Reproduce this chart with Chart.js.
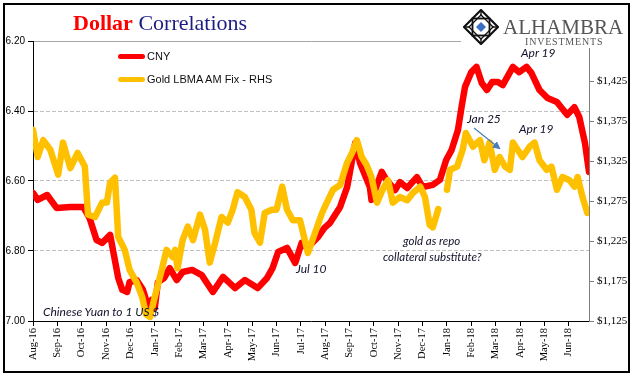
<!DOCTYPE html>
<html>
<head>
<meta charset="utf-8">
<title>Dollar Correlations</title>
<script src="https://cdn.jsdelivr.net/npm/chart.js@4.4.0/dist/chart.umd.min.js"></script>
<style>
    body { margin: 0; background: #fff; }
    #wrap { position: relative; width: 641px; height: 381px; overflow: hidden; background: #fff; }
    #chart { position: absolute; left: 0; top: 0; }
    .frame { position: absolute; left: 3px; top: 3px; width: 627px; height: 370px; border: 2px solid #000; box-sizing: border-box; pointer-events: none; }
    .title { position: absolute; left: 73px; top: 12px; font-family: "Liberation Serif", serif; font-size: 22px; line-height: 22px; white-space: nowrap; }
    .title .d { color: #ff0000; font-weight: bold; }
    .title .c { color: #1c1c84; }
    .leg { position: absolute; font-family: "Liberation Sans", Arial, sans-serif; font-size: 11px; line-height: 12px; color: #111; white-space: nowrap; }
    .leg-line { position: absolute; width: 27px; height: 5px; border-radius: 3px; }
    .note { position: absolute; font-family: Lato, sans-serif; font-style: italic; font-size: 12px; line-height: 12px; color: #10102a; white-space: nowrap; }
    .logo { position: absolute; left: 461px; top: 5px; width: 150px; height: 43px; background: #fff; }
    .logo .name { position: absolute; left: 42px; top: 12px; font-family: "Liberation Serif", serif; font-size: 21px; line-height: 21px; color: #555; }
    .logo .sub { position: absolute; left: 64px; top: 32px; font-family: "Liberation Serif", serif; font-size: 10px; line-height: 10px; color: #555; letter-spacing: 0.8px; }
</style>
</head>
<body>
<div id="wrap">
    <canvas id="chart" width="641" height="381"></canvas>

    <div class="title"><span class="d">Dollar</span> <span class="c">Correlations</span></div>

    <div class="leg-line" style="left:118px; top:53.5px; background:#ff0000;"></div>
    <div class="leg" style="left:147px; top:50px;">CNY</div>
    <div class="leg-line" style="left:118px; top:76.5px; background:#ffc000;"></div>
    <div class="leg" style="left:147px; top:73px;">Gold LBMA AM Fix - RHS</div>

    <div class="note" style="left:43px; top:306px;">Chinese Yuan to 1 US $</div>
    <div class="note" style="left:296px; top:263px;">Jul 10</div>
    <div class="note" style="left:403px; top:235px; font-size:11.5px;">gold as repo</div>
    <div class="note" style="left:383px; top:251px; font-size:11.5px;">collateral substitute?</div>
    <div class="note" style="left:467px; top:113px;">Jan 25</div>
    <div class="note" style="left:519px; top:123px;">Apr 19</div>
    <div class="note" style="left:521px; top:47px;">Apr 19</div>

    <svg style="position:absolute; left:0; top:0;" width="641" height="381">
        <defs>
            <marker id="head" markerWidth="8" markerHeight="8" refX="6" refY="4" orient="auto" markerUnits="userSpaceOnUse">
                <path d="M0,0 L8,4 L0,8 z" fill="#4a7ebb"></path>
            </marker>
        </defs>
        <line x1="474" y1="128" x2="499" y2="148" stroke="#4a7ebb" stroke-width="1.2" marker-end="url(#head)"></line>
    </svg>

    <div class="logo">
        <svg style="position:absolute; left:2px; top:4px;" width="36" height="36" viewBox="0 0 36 36">
            <polygon points="18,1 35,18 18,35 1,18" fill="none" stroke="#111" stroke-width="2.2"></polygon>
            <rect x="9.5" y="9.5" width="17" height="17" fill="none" stroke="#111" stroke-width="1.8"></rect>
            <polygon points="18,6 30,18 18,30 6,18" fill="none" stroke="#111" stroke-width="1.4"></polygon>
            <path d="M18,1 L18,6 M35,18 L30,18 M18,35 L18,30 M1,18 L6,18" stroke="#111" stroke-width="1.4"></path>
            <polygon points="18,13 23,18 18,23 13,18" fill="#3a6fc4"></polygon>
        </svg>
        <div class="name">ALHAMBRA</div>
        <div class="sub">INVESTMENTS</div>
    </div>

    <div class="frame"></div>
</div>

<script>
// month labels on the bottom axis
const monthLabels = ['Aug-16', 'Sep-16', 'Oct-16', 'Nov-16', 'Dec-16', 'Jan-17', 'Feb-17', 'Mar-17',
    'Apr-17', 'May-17', 'Jun-17', 'Jul-17', 'Aug-17', 'Sep-17', 'Oct-17', 'Nov-17', 'Dec-17',
    'Jan-18', 'Feb-18', 'Mar-18', 'Apr-18', 'May-18', 'Jun-18'];

const cnyTicks = [6.2, 6.4, 6.6, 6.8, 7.0];
const goldTicks = [1125, 1175, 1225, 1275, 1325, 1375, 1425];

// CNY per 1 USD (left axis, inverted)
const cnyDates = ['2016-08-01', '2016-08-07', '2016-08-19', '2016-08-31', '2016-09-17', '2016-10-03',
    '2016-10-11', '2016-10-20', '2016-10-27', '2016-11-06', '2016-11-16', '2016-11-21', '2016-11-27',
    '2016-11-30', '2016-12-09', '2016-12-17', '2016-12-23', '2016-12-28', '2017-01-01', '2017-01-05',
    '2017-01-13', '2017-01-20', '2017-01-29', '2017-02-05', '2017-02-16', '2017-02-27', '2017-03-13',
    '2017-03-26', '2017-04-10', '2017-04-22', '2017-05-08', '2017-05-20', '2017-05-27', '2017-06-03',
    '2017-06-14', '2017-06-24', '2017-07-02', '2017-07-10', '2017-07-23', '2017-07-31', '2017-08-07',
    '2017-08-20', '2017-08-29', '2017-09-08', '2017-09-14', '2017-09-26', '2017-09-28', '2017-10-11',
    '2017-10-17', '2017-10-28', '2017-11-03', '2017-11-12', '2017-11-24', '2017-12-01', '2017-12-14',
    '2017-12-23', '2017-12-31', '2018-01-07', '2018-01-15', '2018-01-20', '2018-01-24', '2018-02-01',
    '2018-02-07', '2018-02-13', '2018-02-19', '2018-02-25', '2018-03-04', '2018-03-10', '2018-03-23',
    '2018-03-31', '2018-04-09', '2018-04-15', '2018-04-25', '2018-05-05', '2018-05-17', '2018-05-30',
    '2018-06-08', '2018-06-14', '2018-06-21', '2018-06-26'];

const cnyValues = [6.634, 6.654, 6.640, 6.677, 6.674, 6.674,
    6.706, 6.769, 6.777, 6.754, 6.877, 6.911, 6.917,
    6.889, 6.883, 6.911, 6.954, 6.940, 6.963, 6.889,
    6.877, 6.849, 6.883, 6.860, 6.854, 6.869, 6.917,
    6.874, 6.906, 6.883, 6.906, 6.877, 6.849, 6.803,
    6.791, 6.834, 6.777, 6.789, 6.760, 6.734, 6.720,
    6.674, 6.617, 6.491, 6.549, 6.617, 6.654, 6.574,
    6.597, 6.626, 6.603, 6.620, 6.589, 6.617, 6.611,
    6.597, 6.540, 6.511, 6.454, 6.383, 6.331, 6.289,
    6.274, 6.320, 6.340, 6.317, 6.317, 6.326, 6.274,
    6.289, 6.274, 6.291, 6.340, 6.363, 6.374, 6.411,
    6.389, 6.417, 6.491, 6.574];

// gold LBMA AM fix, USD (right axis); null = break in the line
const goldDates = ['2016-08-01', '2016-08-07', '2016-08-14', '2016-08-23', '2016-09-02', '2016-09-08',
    '2016-09-17', '2016-09-26', '2016-10-05', '2016-10-09', '2016-10-18', '2016-10-27', '2016-11-02',
    '2016-11-06', '2016-11-12', '2016-11-16', '2016-11-24', '2016-11-30', '2016-12-09', '2016-12-16',
    '2016-12-21', '2016-12-26', '2017-01-01', '2017-01-10', '2017-01-16', '2017-01-24', '2017-01-27',
    '2017-01-30', '2017-02-05', '2017-02-11', '2017-02-17', '2017-02-25', '2017-03-03', '2017-03-09',
    '2017-03-16', '2017-03-24', '2017-04-01', '2017-04-07', '2017-04-13', '2017-04-22', '2017-04-30',
    '2017-05-04', '2017-05-11', '2017-05-17', '2017-05-26', '2017-06-01', '2017-06-08', '2017-06-14',
    '2017-06-21', '2017-06-30', '2017-07-10', '2017-07-19', '2017-07-28', '2017-08-03', '2017-08-11',
    '2017-08-20', '2017-08-29', '2017-09-04', '2017-09-10', '2017-09-16', '2017-09-22', '2017-09-28',
    '2017-10-05', '2017-10-12', '2017-10-19', '2017-10-25', '2017-11-03', '2017-11-12', '2017-11-19',
    '2017-11-28', '2017-12-04', '2017-12-10', '2017-12-14', '2017-12-21', '2017-12-26', '2018-01-01',
    '2018-01-05', '2018-01-14', '2018-01-21', '2018-01-25', '2018-02-03', '2018-02-11', '2018-02-16',
    '2018-02-22', '2018-02-28', '2018-03-06', '2018-03-13', '2018-03-19', '2018-03-23', '2018-03-29',
    '2018-04-04', '2018-04-13', '2018-04-19', '2018-04-25', '2018-05-04', '2018-05-10', '2018-05-17',
    '2018-05-24', '2018-06-02', '2018-06-08', '2018-06-12', '2018-06-18', '2018-06-24'];

const goldValues = [1364, 1330, 1351, 1339, 1308, 1348,
    1316, 1335, 1318, 1258, 1255, 1273, 1273,
    1298, 1304, 1230, 1214, 1189, 1173, 1155,
    1133, 1130, 1155, 1189, 1214, 1205, 1214,
    1191, 1226, 1243, 1226, 1258, 1239, 1198,
    1223, 1255, 1248, 1264, 1286, 1280, 1264,
    1235, 1223, 1260, 1264, 1264, 1293, 1264,
    1251, 1251, 1210, 1235, 1260, 1273, 1289,
    1295, 1323, 1335, 1351, 1330, 1320, 1305,
    1273, 1289, 1301, 1273, 1280, 1276, 1285,
    1293, 1280, 1245, 1242, 1265, null, 1289,
    1314, 1318, 1339, 1360, 1343, 1351, 1326,
    1348, 1314, 1330, 1318, 1314, 1348, 1339,
    1330, 1343, 1348, 1326, 1314, 1318, 1289,
    1305, 1301, 1293, 1305, 1280, 1260];

// date -> months since Aug 2016 (fractional)
function monthIndex(dateStr) {
    const [y, m, d] = dateStr.split('-').map(Number);
    const dim = new Date(y, m, 0).getDate();
    return (y - 2016) * 12 + (m - 8) + (d - 1) / dim;
}

function toPoints(dates, values) {
    return dates.map((d, i) => ({ x: monthIndex(d), y: values[i] }));
}

const xEnd = monthIndex('2018-06-26');

const ctx = document.getElementById('chart');

new Chart(ctx, {

    type: 'line',

    data: {
        datasets: [
            {
                label: 'CNY',
                data: toPoints(cnyDates, cnyValues),
                yAxisID: 'y',
                borderColor: '#ff0000',
                borderWidth: 6.5,
                pointRadius: 0,
                tension: 0,
                borderJoinStyle: 'round',
                borderCapStyle: 'round',
                order: 2
            },
            {
                label: 'Gold LBMA AM Fix - RHS',
                data: toPoints(goldDates, goldValues),
                yAxisID: 'y1',
                borderColor: '#ffc000',
                borderWidth: 6.5,
                pointRadius: 0,
                tension: 0,
                spanGaps: false,
                borderJoinStyle: 'round',
                borderCapStyle: 'round',
                order: 1
            }
        ]
    },

    options: {
        responsive: false,
        animation: false,
        events: [],

        layout: {
            padding: { top: 41, left: 0, right: 0, bottom: 0 }
        },

        plugins: {
            legend: { display: false },
            tooltip: { enabled: false }
        },

        scales: {

            x: {
                type: 'linear',
                position: 'bottom',
                min: 0,
                max: xEnd,
                afterBuildTicks: scale => {
                    scale.ticks = monthLabels.map((l, i) => ({ value: i }));
                },
                afterFit: scale => { scale.height = 60; },
                grid: {
                    drawOnChartArea: false,
                    tickColor: '#000',
                    tickLength: 5
                },
                border: { color: '#000', width: 1 },
                ticks: {
                    autoSkip: false,
                    minRotation: 90,
                    maxRotation: 90,
                    padding: 2,
                    color: '#000',
                    font: { family: 'Liberation Serif', size: 10.5 },
                    callback: v => monthLabels[v]
                }
            },

            // only used for the grey line along the top of the plot
            xTop: {
                type: 'linear',
                position: 'top',
                min: 0,
                max: 1,
                afterFit: scale => { scale.height = 0; },
                grid: { display: false, drawTicks: false },
                ticks: { display: false },
                border: { color: '#a6a6a6', width: 1 }
            },

            y: {
                position: 'left',
                reverse: true,
                min: 6.2,
                max: 7.0,
                afterBuildTicks: scale => {
                    scale.ticks = cnyTicks.map(v => ({ value: v }));
                },
                afterFit: scale => { scale.width = 33; },
                grid: {
                    color: c => (c.tick && c.tick.value > 6.3 && c.tick.value < 6.9) ? '#bfbfbf' : 'rgba(0,0,0,0)',
                    tickColor: '#000',
                    tickLength: 5,
                    tickBorderDash: []
                },
                border: { color: '#000', width: 1, dash: [4, 2] },
                ticks: {
                    padding: 3,
                    color: '#000',
                    font: { family: 'Liberation Sans', size: 10 },
                    callback: v => Number(v).toFixed(2)
                }
            },

            y1: {
                position: 'right',
                min: 1125,
                max: 1475,
                afterBuildTicks: scale => {
                    scale.ticks = goldTicks.map(v => ({ value: v }));
                },
                afterFit: scale => { scale.width = 52; },
                grid: {
                    drawOnChartArea: false,
                    tickColor: '#808080',
                    tickLength: 5
                },
                border: { color: '#808080', width: 1 },
                ticks: {
                    padding: 3,
                    color: '#000',
                    font: { family: 'Liberation Serif', size: 11 },
                    callback: v => '$' + Number(v).toLocaleString('en-US')
                }
            }
        }
    }
});
</script>
</body>
</html>
